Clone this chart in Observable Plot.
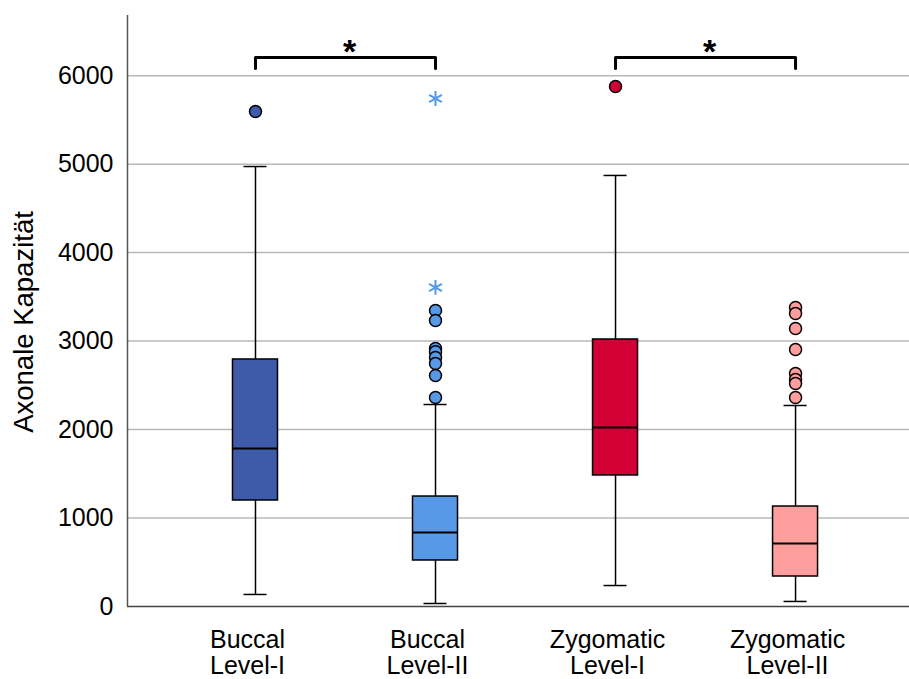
<!DOCTYPE html>
<html>
<head>
<meta charset="utf-8">
<script src="https://cdn.jsdelivr.net/npm/d3@7"></script>
<script src="https://cdn.jsdelivr.net/npm/@observablehq/plot@0.6"></script>
<style>
  html, body { margin: 0; padding: 0; background: #fff; }
</style>
</head>
<body>
<div id="chart"></div>
<script>
// ---- data ----
const categories = ["Buccal\nLevel-I", "Buccal\nLevel-II", "Zygomatic\nLevel-I", "Zygomatic\nLevel-II"];
const colors = ["#3D5BA8", "#5799E6", "#D30036", "#FF9E9C"];
const whiskerLow  = [136, 34, 237, 57];
const q1          = [1198, 520, 1481, 339];
const median      = [1786, 836, 2023, 712];
const q3          = [2792, 1243, 3018, 1130];
const whiskerHigh = [4973, 2283, 4872, 2272];
// circle outliers (category index, value)
const outlierCat = [0, 1, 1, 1, 1, 1, 1, 1, 1, 2, 3, 3, 3, 3, 3, 3, 3, 3];
const outlierVal = [5595, 3346, 3233, 2916, 2880, 2814, 2747, 2611, 2362, 5878, 3380, 3312, 3142, 2905, 2634, 2566, 2521, 2362];
// extreme outliers (asterisks)
const extremeCat = [1, 1];
const extremeVal = [5742, 3606];
// significance brackets
const bracketFrom = [0, 2];
const bracketTo = [1, 3];
const bracketTop = 6205;
const bracketLeg = 6081;
const sigLabel = "*";
const yTicks = [0, 1000, 2000, 3000, 4000, 5000, 6000];
const yLabel = "Axonale Kapazität";

// ---- derived tables ----
const boxes = categories.map((c, i) => ({
  i, c, lo: whiskerLow[i], q1: q1[i], med: median[i], q3: q3[i], hi: whiskerHigh[i], color: colors[i]
}));
const outliers = outlierCat.map((c, k) => ({i: c, v: outlierVal[k], color: colors[c]}));
const extremes = extremeCat.map((c, k) => ({i: c, v: extremeVal[k], color: colors[c]}));
const bracketPts = [];
bracketFrom.forEach((a, k) => {
  const b = bracketTo[k];
  bracketPts.push({g: k, x: a, y: bracketLeg}, {g: k, x: a, y: bracketTop}, {g: k, x: b, y: bracketTop}, {g: k, x: b, y: bracketLeg});
});
const sigMarks = bracketFrom.map((a, k) => ({x: (a + bracketTo[k]) / 2, y: bracketTop}));

const BW = 0.125;   // half box width (category units)
const CW = 0.064;   // half cap width
const xDomain = [-0.711, 3.633];
const yDomain = [0, 6680];

const chart = Plot.plot({
  width: 909,
  height: 679,
  marginLeft: 127,
  marginRight: 0,
  marginTop: 15,
  marginBottom: 73,
  style: {fontFamily: "'Liberation Sans', Arial, sans-serif", color: "#000", background: "#fff"},
  x: {domain: xDomain, axis: null},
  y: {domain: yDomain, axis: null},
  color: {type: "identity"},
  marks: [
    Plot.ruleY(yTicks.filter(d => d > 0), {stroke: "#b8b8b8", strokeWidth: 1.5}),
    Plot.ruleX([xDomain[0]], {stroke: "#555", strokeWidth: 1.5}),
    Plot.ruleY([0], {stroke: "#444", strokeWidth: 1.5}),
    Plot.axisY({ticks: yTicks, tickSize: 0, tickPadding: 14, fontSize: 25, label: null, tickFormat: d => String(d)}),
    Plot.axisX({ticks: [0, 1, 2, 3], tickFormat: i => categories[i], tickSize: 0, tickPadding: 23, fontSize: 25, lineHeight: 1.04, dx: -8, label: null}),
    Plot.text([yLabel], {frameAnchor: "left", textAnchor: "middle", rotate: -90, dx: -103, dy: 11, fontSize: 27.5, fill: "#000"}),
    // whiskers
    Plot.ruleX(boxes, {x: "i", y1: "q3", y2: "hi", stroke: "#000", strokeWidth: 1.5}),
    Plot.ruleX(boxes, {x: "i", y1: "lo", y2: "q1", stroke: "#000", strokeWidth: 1.5}),
    Plot.ruleY(boxes, {x1: d => d.i - CW, x2: d => d.i + CW, y: "hi", stroke: "#000", strokeWidth: 1.5}),
    Plot.ruleY(boxes, {x1: d => d.i - CW, x2: d => d.i + CW, y: "lo", stroke: "#000", strokeWidth: 1.5}),
    // boxes
    Plot.rect(boxes, {x1: d => d.i - BW, x2: d => d.i + BW, y1: "q1", y2: "q3", fill: "color", stroke: "#000", strokeWidth: 1.5}),
    Plot.ruleY(boxes, {x1: d => d.i - BW, x2: d => d.i + BW, y: "med", stroke: "#000", strokeWidth: 2}),
    // outliers
    Plot.dot(outliers, {x: "i", y: "v", r: 6, fill: "color", stroke: "#000", strokeWidth: 1.5}),
    Plot.dot(extremes, {x: "i", y: "v", r: 7, symbol: "asterisk", stroke: "color", strokeWidth: 2}),
    // significance brackets
    Plot.line(bracketPts, {x: "x", y: "y", z: "g", stroke: "#000", strokeWidth: 3}),
    Plot.text(sigMarks, {x: "x", y: "y", text: () => sigLabel, fontSize: 34, fontWeight: "bold", fill: "#000", dx: 4, dy: -5})
  ]
});
document.getElementById("chart").appendChild(chart);
</script>
</body>
</html>
